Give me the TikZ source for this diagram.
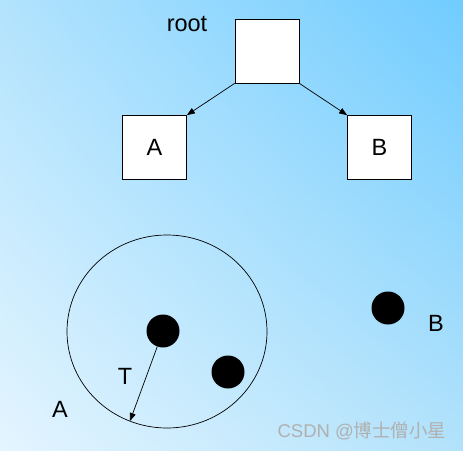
\documentclass[tikz,border=0pt]{standalone}
\usepackage{fontspec}
\setmainfont{Liberation Sans}
\newfontfamily\cjkfont{Noto Sans CJK SC}
\usetikzlibrary{arrows.meta,shadings}
\definecolor{bgUR}{HTML}{70CCFF}
\definecolor{bgUL}{HTML}{B2E3FD}
\definecolor{bgLR}{HTML}{B2E2FB}
\definecolor{bgLL}{HTML}{E4F5FF}
\definecolor{wmark}{HTML}{B0B0B0}
\tikzset{
  box/.style={draw=black, fill=white, minimum size=64pt, inner sep=0pt, line width=0.7pt, font=\fontsize{23.5}{26}\selectfont},
  lbl/.style={font=\fontsize{23.5}{26}\selectfont, inner sep=0pt},
  dot/.style={circle, fill=black, minimum size=33pt, inner sep=0pt},
  link/.style={line width=0.7pt, -{Triangle[length=8pt,width=6pt]}},
}
\begin{document}
\begin{tikzpicture}[x=1pt,y=-1pt]
\useasboundingbox (0,0) rectangle (463,450);
\shade[upper left=bgUL, upper right=bgUR, lower left=bgLL, lower right=bgLR] (0,0) rectangle (463,450);
\node[box] (root) at (267,51) {};
\node[box] (A) at (154.5,147.5) {A};
\node[box] (B) at (379.5,147.5) {B};
\node[lbl] (rootlbl) at (187,24) {root};
\draw[link] (root.south west) -- (A.north east);
\draw[link] (root.south east) -- (B.north west);
\draw[line width=0.7pt] (167,331.5) ellipse [x radius=100, y radius=96.5];
\coordinate (rim) at (130,421);
\node[dot] (d1) at (163,331) {};
\node[dot] (d2) at (228,372) {};
\node[dot] (dB) at (388,308) {};
\draw[link] (d1) -- (rim);
\node[lbl] (T) at (125,376) {T};
\node[lbl] (Alab) at (60,409) {A};
\node[lbl] (Blab) at (436,323) {B};
\node[inner sep=0pt, text=wmark, font=\fontsize{18.5}{20}\selectfont] (wm) at (362,431) {CSDN @{\cjkfont 博士僧小星}};
\end{tikzpicture}
\end{document}
